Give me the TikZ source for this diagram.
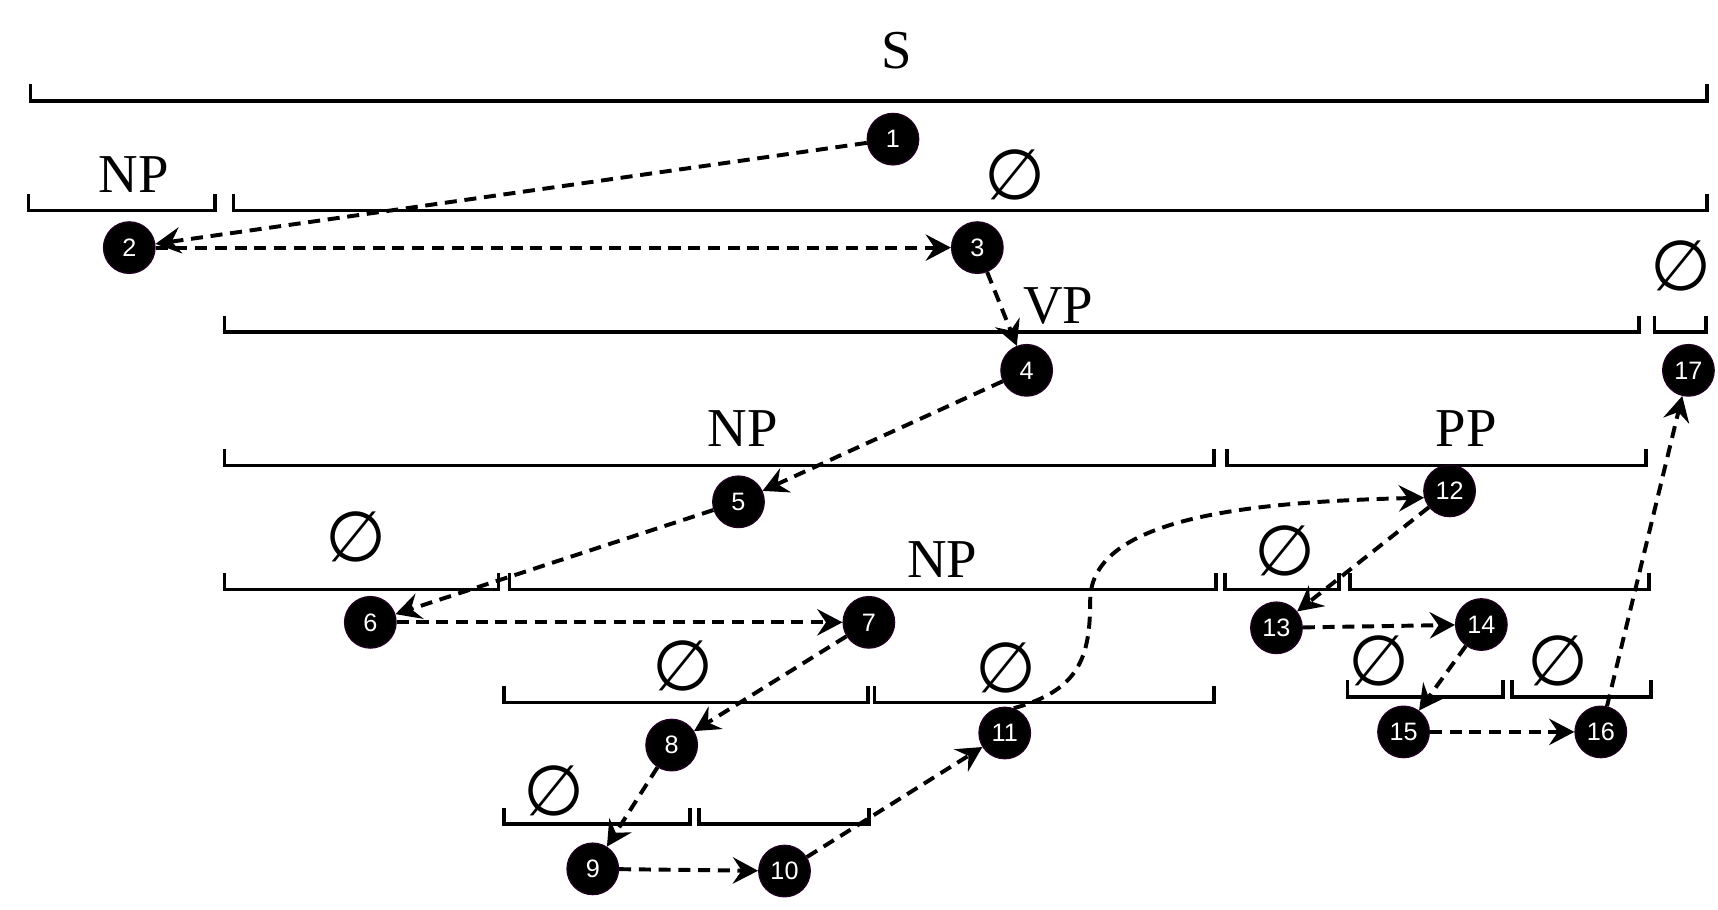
\documentclass[tikz,border=0pt]{standalone}
\usepackage{fontspec}
\setmainfont{Liberation Serif}
\newfontfamily\numfont{Liberation Sans}
\newfontfamily\symfont{DejaVu Sans}
\usetikzlibrary{arrows.meta}
\tikzset{
  bracket/.style={line width=3.3pt, line join=miter, line cap=butt},
  num/.style={circle, fill=black, draw=black!75!violet, line width=1.2pt, minimum size=47pt, inner sep=0pt, text=white, font=\numfont\fontsize{23}{23}\selectfont},
  lab/.style={font=\fontsize{50}{50}\selectfont, inner sep=0pt},
  nul/.style={font=\symfont\fontsize{64}{64}\selectfont, inner sep=0pt},
  conn/.style={line width=3.6pt, dash pattern=on 11pt off 7pt, -{Stealth[length=23pt,width=24pt,inset=8pt]}}
}
\begin{document}
\begin{tikzpicture}[x=1pt,y=-1pt]
\useasboundingbox (0,0) rectangle (1568,830);
% brackets
\draw[bracket] (28,77) |- (1558,92) -- (1558,77);
\draw[bracket] (26,177) |- (196,192) -- (196,177);
\draw[bracket] (213,177) |- (1558,192) -- (1558,177);
\draw[bracket] (205,288) |- (1496,303) -- (1496,288);
\draw[bracket] (1510,288) |- (1557,303) -- (1557,288);
\draw[bracket] (205,410) |- (1108,425) -- (1108,410);
\draw[bracket] (1120,410) |- (1502,425) -- (1502,410);
\draw[bracket] (205,523) |- (455,538) -- (455,523);
\draw[bracket] (465,523) |- (1110,538) -- (1110,523);
\draw[bracket] (1118,523) |- (1222,538) -- (1222,523);
\draw[bracket] (1232,523) |- (1505,538) -- (1505,523);
\draw[bracket] (460,626) |- (792,641) -- (792,626);
\draw[bracket] (798,626) |- (1108,641) -- (1108,626);
\draw[bracket] (1230,621) |- (1372,636) -- (1372,621);
\draw[bracket] (1380,621) |- (1507,636) -- (1507,621);
\draw[bracket] (460,737) |- (630,752) -- (630,737);
\draw[bracket] (638,737) |- (793,752) -- (793,737);
% labels
\node[lab] (lS) at (818,46) {S};
\node[lab] (lNP1) at (122,159) {NP};
\node[lab] (lVP) at (966,279) {VP};
\node[lab] (lNP2) at (678,391) {NP};
\node[lab] (lPP) at (1338,391) {PP};
\node[lab] (lNP3) at (860,511) {NP};
% empty set symbols
\node[nul] (e1) at (926,160) {∅};
\node[nul] (e2) at (1534,243) {∅};
\node[nul] (e3) at (325,490) {∅};
\node[nul] (e4) at (1173,503) {∅};
\node[nul] (e5) at (623,608) {∅};
\node[nul] (e6) at (918,610) {∅};
\node[nul] (e7) at (1259,603) {∅};
\node[nul] (e8) at (1422,603) {∅};
\node[nul] (e9) at (506,722) {∅};
% numbered nodes
\node[num] (n1) at (815,127) {1};
\node[num] (n2) at (118,226) {2};
\node[num] (n3) at (892,226) {3};
\node[num] (n4) at (937,338) {4};
\node[num] (n5) at (674,458) {5};
\node[num] (n6) at (338,568) {6};
\node[num] (n7) at (793,568) {7};
\node[num] (n8) at (613,680) {8};
\node[num] (n9) at (541,793) {9};
\node[num] (n10) at (716,795) {10};
\node[num] (n11) at (917,669) {11};
\node[num] (n12) at (1323,448) {12};
\node[num] (n13) at (1165,573) {13};
\node[num] (n14) at (1352,570) {14};
\node[num] (n15) at (1281,668) {15};
\node[num] (n16) at (1461,668) {16};
\node[num] (n17) at (1541,338) {17};
% connectors
\draw[conn] (n1) -- (n2);
\draw[conn] (n2) -- (n3);
\draw[conn] (n3) -- (n4);
\draw[conn] (n4) -- (n5);
\draw[conn] (n5) -- (n6);
\draw[conn] (n6) -- (n7);
\draw[conn] (n7) -- (n8);
\draw[conn] (n8) -- (n9);
\draw[conn] (n9) -- (n10);
\draw[conn] (n10) -- (n11);
\draw[conn] (n11.70) .. controls (985,630) and (995,600) .. (995,548) .. controls (995,470) and (1150,458) .. (n12.195);
\draw[conn] (n12) -- (n13);
\draw[conn] (n13) -- (n14);
\draw[conn] (n14) -- (n15);
\draw[conn] (n15) -- (n16);
\draw[conn] (n16) -- (n17);
\end{tikzpicture}
\end{document}
